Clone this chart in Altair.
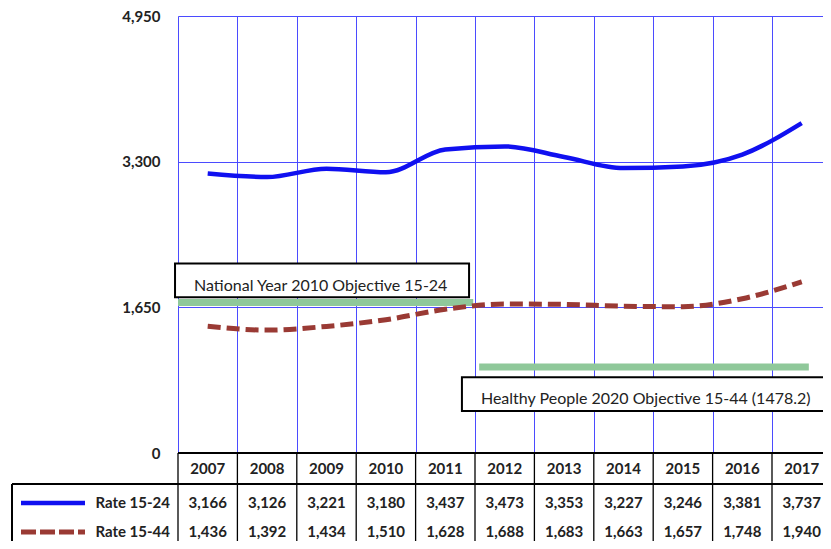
import altair as alt
import pandas as pd

# ---------------- data ----------------
years = ["2007", "2008", "2009", "2010", "2011", "2012", "2013", "2014", "2015", "2016", "2017"]
rate_15_24 = [3166, 3126, 3221, 3180, 3437, 3473, 3353, 3227, 3246, 3381, 3737]
rate_15_44 = [1436, 1392, 1434, 1510, 1628, 1688, 1683, 1663, 1657, 1748, 1940]
series_names = ["Rate 15-24", "Rate 15-44"]
y_ticks = [0, 1650, 3300, 4950]

ref_names = ["National Year 2010 Objective 15-24",
             "Healthy People 2020 Objective 15-44 (1478.2)"]
ref_values = [1706, 975]          # where the green lines are drawn
ref_start = [0.0, 5.07]           # in column units
ref_end = [4.97, 10.62]

# annotation boxes (column units / value units)
box_x0 = [-0.05, 4.78]
box_x1 = [4.90, 11.3]
box_y0 = [1763, 475]
box_y1 = [2147, 859]
label_x = [0.27, 5.10]
label_y = [1887, 615]

# ---------------- styling ----------------
FONT = "Lato"
GRID_BLUE = "#4b4bff"
LINE_BLUE = "#1010f0"
BROWN = "#9a3a34"
GREEN = "#8fc89a"
NCOL = len(years)
COLW = 59.4
WIDTH = 645
HEIGHT = 437

pos = [i + 0.5 for i in range(NCOL)]
df = pd.DataFrame({"year": years, "pos": pos, "r1": rate_15_24, "r2": rate_15_44})
df["r1_txt"] = [f"{v:,}" for v in rate_15_24]
df["r2_txt"] = [f"{v:,}" for v in rate_15_44]

refs = pd.DataFrame({"name": ref_names, "value": ref_values, "x0": ref_start, "x1": ref_end})
boxes = pd.DataFrame({"name": ref_names, "bx0": box_x0, "bx1": box_x1, "by0": box_y0,
                      "by1": box_y1, "lx": label_x, "ly": label_y})
bounds = pd.DataFrame({"b": list(range(NCOL + 1))})

xscale = alt.Scale(domain=[0, WIDTH / COLW], nice=False, zero=False)
yscale = alt.Scale(domain=[0, 4950], nice=False, zero=False)
xaxis = alt.Axis(values=list(range(NCOL + 1)), grid=True, gridColor=GRID_BLUE, gridWidth=1,
                 labels=False, ticks=False, domain=False, title=None)
yaxis = alt.Axis(values=y_ticks, grid=True, gridColor=GRID_BLUE, gridWidth=1,
                 labelExpr="format(datum.value, ',')",
                 labelFont=FONT, labelFontSize=15, labelFontWeight="bold", labelColor="#222222",
                 labelPadding=18, ticks=False, domain=False, title=None)


def X(field):
    return alt.X(field, type="quantitative", scale=xscale, axis=xaxis)


def Y(field):
    return alt.Y(field, type="quantitative", scale=yscale, axis=yaxis)


# ---------------- plot layers ----------------
line1 = alt.Chart(df).mark_line(color=LINE_BLUE, strokeWidth=4.5, interpolate="monotone").encode(
    x=X("pos"), y=Y("r1"))
line2 = alt.Chart(df).mark_line(color=BROWN, strokeWidth=5, strokeDash=[13, 6], strokeCap="butt",
                                interpolate="monotone").encode(x=X("pos"), y=Y("r2"))

ref_rules = alt.Chart(refs).mark_rule(color=GREEN, strokeWidth=7).encode(
    x=X("x0"), x2="x1", y=Y("value"))

box_rects = alt.Chart(boxes).mark_rect(fill="white", stroke="black", strokeWidth=2).encode(
    x=X("bx0"), x2="bx1", y=Y("by0"), y2="by1")
box_text = alt.Chart(boxes).mark_text(align="left", baseline="middle", font=FONT, fontSize=16,
                                      color="#222222").encode(x=X("lx"), y=Y("ly"), text="name")

# ---------------- table ----------------
TOP = HEIGHT            # y=0 line (plot bottom)
ROW1 = HEIGHT + 31      # line under the year row
BOTTOM = HEIGHT + 110
zero_line = alt.Chart(bounds).mark_rule(color="black", strokeWidth=1.3).encode(
    x=alt.value(0), x2=alt.value(WIDTH + 10), y=alt.value(TOP))
row_line = alt.Chart(bounds).mark_rule(color="black", strokeWidth=1.3).encode(
    x=alt.value(-166), x2=alt.value(WIDTH + 10), y=alt.value(ROW1))
left_border = alt.Chart(bounds).mark_rule(color="black", strokeWidth=1.3).encode(
    x=alt.value(-166), y=alt.value(ROW1), y2=alt.value(BOTTOM))
col_lines = alt.Chart(bounds).mark_rule(color="black", strokeWidth=1.3).encode(
    x=X("b"), y=alt.value(TOP), y2=alt.value(BOTTOM))

txt = dict(font=FONT, fontSize=15, fontWeight="bold", color="#222222", baseline="middle")
year_text = alt.Chart(df).mark_text(**txt).encode(x=X("pos"), y=alt.value(HEIGHT + 16), text="year")
r1_text = alt.Chart(df).mark_text(**txt).encode(x=X("pos"), y=alt.value(HEIGHT + 50), text="r1_txt")
r2_text = alt.Chart(df).mark_text(**txt).encode(x=X("pos"), y=alt.value(HEIGHT + 79), text="r2_txt")

leg = pd.DataFrame({"name": series_names})
leg1_sym = alt.Chart(leg.iloc[[0]]).mark_rule(color=LINE_BLUE, strokeWidth=4.5).encode(
    x=alt.value(-157), x2=alt.value(-93), y=alt.value(HEIGHT + 50))
leg2_sym = alt.Chart(leg.iloc[[1]]).mark_rule(color=BROWN, strokeWidth=5, strokeDash=[15, 4],
                                              strokeCap="butt").encode(
    x=alt.value(-157), x2=alt.value(-93), y=alt.value(HEIGHT + 79))
leg1_txt = alt.Chart(leg.iloc[[0]]).mark_text(align="right", **txt).encode(
    x=alt.value(-8), y=alt.value(HEIGHT + 50), text="name")
leg2_txt = alt.Chart(leg.iloc[[1]]).mark_text(align="right", **txt).encode(
    x=alt.value(-8), y=alt.value(HEIGHT + 79), text="name")

chart = alt.layer(
    ref_rules, line2, line1, box_rects, box_text,
    zero_line, row_line, left_border, col_lines,
    year_text, r1_text, r2_text,
    leg1_sym, leg2_sym, leg1_txt, leg2_txt,
).properties(
    width=WIDTH, height=HEIGHT,
    autosize=alt.AutoSizeParams(type="none"),
    padding={"left": 170, "top": 8, "right": 0, "bottom": 88},
).configure_view(stroke=None).configure(background="white")

chart.save("out.html", embed_options={"renderer": "svg", "actions": False})
